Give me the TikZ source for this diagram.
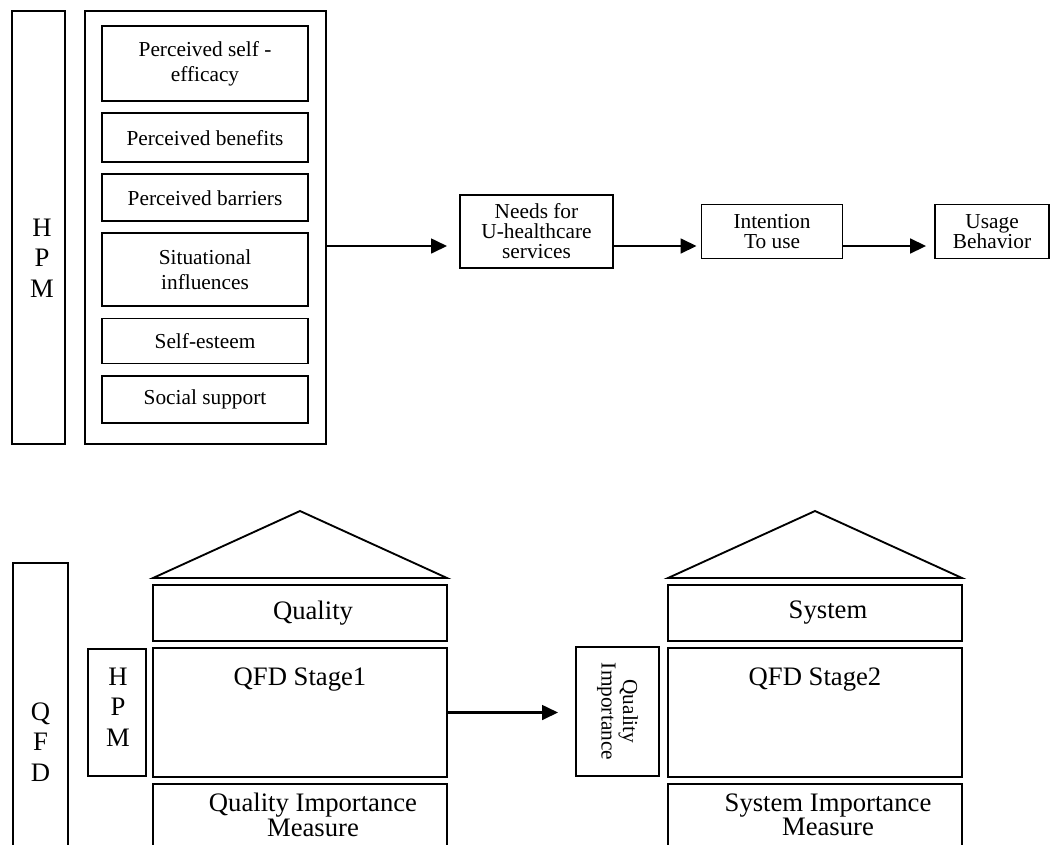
\documentclass[tikz,border=0pt]{standalone}
\usepackage{fontspec}
\setmainfont{Liberation Serif}
\usetikzlibrary{positioning,arrows.meta}
\newcommand{\px}{0.75pt}

\begin{document}
\begin{tikzpicture}[
x=0.75pt,y=-0.75pt,
node distance=7.7pt,
box/.style={
rectangle,
draw=black,
line width=1.4pt,
align=center,
inner sep=2pt,
font=\fontsize{16}{19}\selectfont
},
factor/.style={
box,
minimum width=206*\px
},
bigbox/.style={
box,
minimum width=294*\px
},
lbl/.style={
inner sep=0pt,
align=center,
font=\fontsize{20}{17}\selectfont
},
letters/.style={
align=center,
font=\fontsize{20}{23}\selectfont
},
roof/.style={
line width=1.4pt,
line join=miter
},
arrow/.style={
-{Triangle[length=12pt,width=11pt]},
line width=1.9pt,
draw=black
}
]
\useasboundingbox (0,0) rectangle (1064,844);
\clip (0,0) rectangle (1064,844);

% HPM
\node[box,minimum width=53*\px,minimum height=433*\px] (hpm) at (38.5,227.5) {};
\node[letters] (hpmlbl) at (42,258) {H\\P\\M};
\node[box,minimum width=241*\px,minimum height=433*\px] (factors) at (205.5,227.5) {};

\node[factor,minimum height=75*\px] (eff) at (205,63.5) {Perceived self -\\efficacy};
\node[factor,minimum height=49*\px,below=of eff] (ben) {Perceived benefits};
\node[factor,minimum height=47*\px,below=of ben] (bar) {Perceived barriers};
\node[factor,minimum height=73*\px,below=of bar] (sit) {Situational\\influences};
\node[factor,minimum height=45*\px,below=of sit] (est) {Self-esteem};
\node[factor,minimum height=47*\px,below=of est] (sup) {Social support};

\node[box,font=\fontsize{16}{15}\selectfont,minimum width=153*\px,minimum height=73*\px] (needs) at (536.5,231.5) {Needs for\\U-healthcare\\services};
\node[box,font=\fontsize{16}{15}\selectfont,minimum width=141*\px,minimum height=54*\px,right=65pt of needs] (intent) {Intention\\To use};
\node[box,font=\fontsize{16}{15}\selectfont,minimum width=114*\px,minimum height=54*\px,right=68pt of intent] (usage) {Usage\\Behavior};

\coordinate (flow) at (0,246);
\draw[arrow,shorten >=9pt] (factors.east |- flow) -- (flow -| needs.west);
\draw[arrow,shorten >=3pt] (needs.east |- flow) -- (flow -| intent.west);
\draw[arrow,shorten >=6pt] (intent.east |- flow) -- (flow -| usage.west);

% QFD
\node[box,letters,minimum width=55*\px,minimum height=358*\px] (qfd) at (40.5,742) {Q\\F\\D};
\node[box,minimum width=58*\px,minimum height=127*\px] (hpmin) at (117,712.5) {};
\node[letters] (hpminlbl) at (118,707) {H\\P\\M};

\draw[roof] (153,578) -- (300,511) -- (447,578) -- cycle;
\node[bigbox,minimum height=56*\px] (quality) at (300,613) {};
\node[lbl,xshift=9.75pt] (qualitylbl) at (quality) {Quality};
\node[bigbox,minimum height=129*\px] (stage1) at (300,712.5) {};
\node[lbl,below=15pt of stage1.north] (stage1lbl) {QFD Stage1};
\node[bigbox,minimum height=116*\px] (meas1) at (300,842) {};
\node[lbl,below=7.5pt of meas1.north,xshift=9.75pt] (meas1lbl) {Quality Importance\\Measure};

\node[box,minimum width=83*\px,minimum height=129*\px] (qimp) at (617.5,711.5) {};
\node[rotate=-90,align=center,inner sep=0pt,font=\fontsize{16}{16}\selectfont] (qimplbl) at (qimp) {Quality\\Importance};

\draw[arrow,shorten >=12.75pt] (stage1.east) -- (stage1.east -| qimp.west);

\draw[roof] (668,578) -- (815,511) -- (962,578) -- cycle;
\node[bigbox,minimum height=56*\px] (system) at (815,613) {};
\node[lbl,xshift=9.75pt] (systemlbl) at (system) {System};
\node[bigbox,minimum height=129*\px] (stage2) at (815,712.5) {};
\node[lbl,below=15pt of stage2.north] (stage2lbl) {QFD Stage2};
\node[bigbox,minimum height=116*\px] (meas2) at (815,842) {};
\node[lbl,below=7.5pt of meas2.north,xshift=9.75pt] (meas2lbl) {System Importance\\Measure};

\end{tikzpicture}
\end{document}
